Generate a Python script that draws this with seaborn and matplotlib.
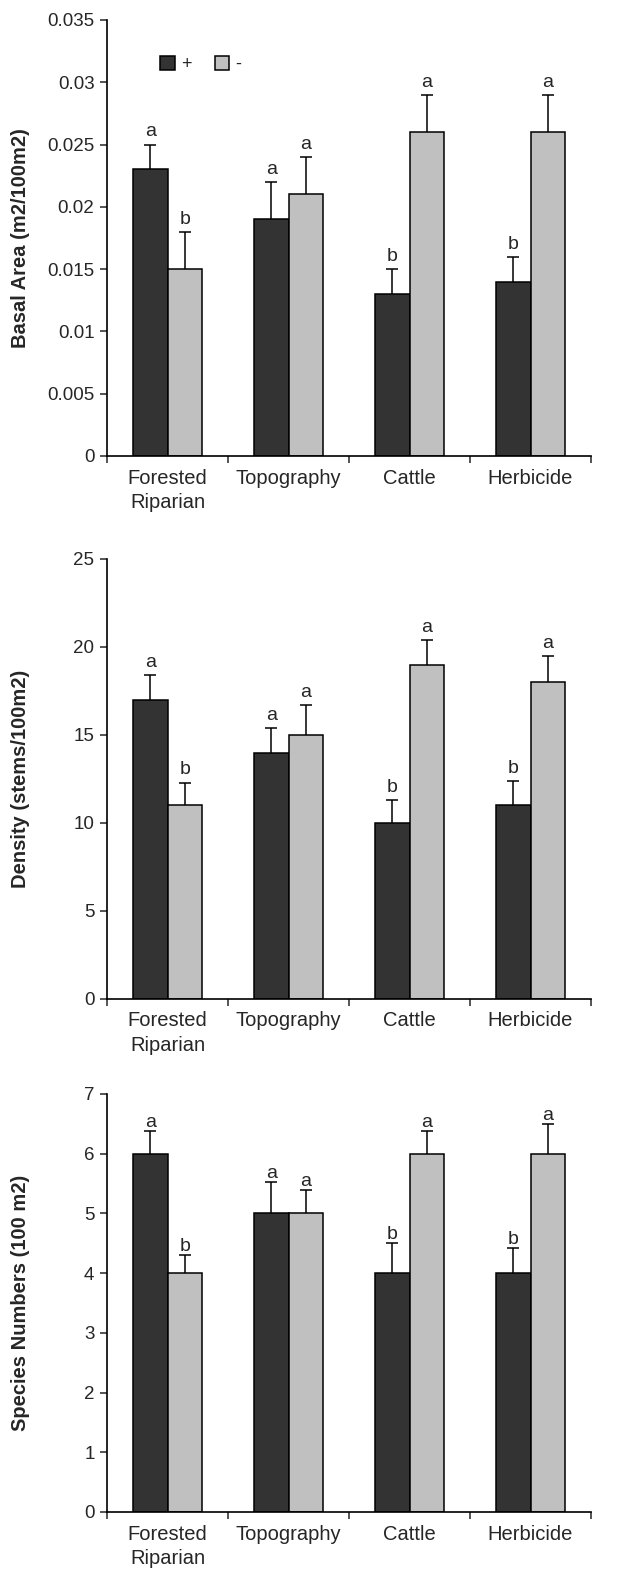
import numpy as np
import pandas as pd
import matplotlib.pyplot as plt
import seaborn as sns
from matplotlib.patches import Patch

# data
categories = ["Forested\nRiparian", "Topography", "Cattle", "Herbicide"]
treatments = ["+", "-"]

basal_plus = [0.023, 0.019, 0.013, 0.014]
basal_minus = [0.015, 0.021, 0.026, 0.026]
basal_plus_se = [0.002, 0.003, 0.002, 0.002]
basal_minus_se = [0.003, 0.003, 0.003, 0.003]

density_plus = [17, 14, 10, 11]
density_minus = [11, 15, 19, 18]
density_plus_se = [1.4, 1.4, 1.3, 1.4]
density_minus_se = [1.3, 1.7, 1.4, 1.5]

species_plus = [6, 5, 4, 4]
species_minus = [4, 5, 6, 6]
species_plus_se = [0.38, 0.52, 0.5, 0.42]
species_minus_se = [0.3, 0.4, 0.38, 0.5]

plus_letters = ["a", "a", "b", "b"]
minus_letters = ["b", "a", "a", "a"]

basal_ticks = [0, 0.005, 0.01, 0.015, 0.02, 0.025, 0.03, 0.035]
basal_tick_labels = ["0", "0.005", "0.01", "0.015", "0.02", "0.025", "0.03", "0.035"]
density_ticks = [0, 5, 10, 15, 20, 25]
species_ticks = [0, 1, 2, 3, 4, 5, 6, 7]

dark = "#333333"
light = "#c0c0c0"

sns.set_style("ticks")
plt.rcParams['font.family'] = ['Liberation Sans', 'DejaVu Sans']
plt.rcParams['font.size'] = 13


def draw_panel(ax, plus, minus, plus_se, minus_se, ylabel, yticks, ytick_labels, letter_pad):
    df = pd.DataFrame({
        "category": categories * 2,
        "treatment": ["+"] * len(categories) + ["-"] * len(categories),
        "value": plus + minus,
    })
    sns.barplot(data=df, x="category", y="value", hue="treatment", order=categories,
                hue_order=treatments, palette=[dark, light], saturation=1, width=0.57,
                edgecolor="black", linewidth=1.1, errorbar=None, legend=False, ax=ax)

    for cont, errs, letters in zip(ax.containers, [plus_se, minus_se], [plus_letters, minus_letters]):
        for bar, e, lab in zip(cont, errs, letters):
            x = bar.get_x() + bar.get_width() / 2
            y = bar.get_height()
            # upper half error bar only
            ax.errorbar(x, y + e / 2, yerr=e / 2, fmt="none", ecolor="black",
                        elinewidth=1.1, capsize=0, zorder=3)
            ax.plot(x, y + e, marker="_", markersize=8.5, markeredgewidth=1.1,
                    color="black", zorder=3)
            ax.annotate(lab, (x, y + e), xytext=(0, letter_pad), textcoords="offset points",
                        ha="center", va="bottom", fontsize=14)

    ax.set_xlim(-0.5, len(categories) - 0.5)
    ax.set_ylim(yticks[0], yticks[-1])
    ax.set_yticks(yticks)
    ax.set_yticklabels(ytick_labels)
    ax.set_xticks(np.arange(-0.5, len(categories), 1))
    ax.set_xticklabels([])
    ax.set_xticks(range(len(categories)), labels=categories, minor=True)
    for t in ax.get_xticklabels(minor=True):
        t.set_linespacing(1.38)
    ax.tick_params(axis="x", which="minor", length=0, pad=9, labelsize=14.5)
    ax.tick_params(axis="x", which="major", length=5, width=1.1, direction="out")
    ax.tick_params(axis="y", length=5, width=1.1, direction="out", labelsize=13.5, pad=4)
    ax.set_xlabel("")
    ax.set_ylabel(ylabel, fontsize=14.5, fontweight="bold")
    ax.yaxis.set_label_coords(-0.16, 0.5)
    for side in ["left", "bottom"]:
        ax.spines[side].set_linewidth(1.2)
        ax.spines[side].set_color("black")
    sns.despine(ax=ax)


fig = plt.figure(figsize=(6.17, 15.71), dpi=100)
left, width = 107 / 617, 484 / 617
ax1 = fig.add_axes([left, 1 - 456 / 1571, width, 436 / 1571])
ax2 = fig.add_axes([left, 1 - 999 / 1571, width, 440 / 1571])
ax3 = fig.add_axes([left, 1 - 1512 / 1571, width, 418 / 1571])

draw_panel(ax1, basal_plus, basal_minus, basal_plus_se, basal_minus_se,
           "Basal Area (m2/100m2)", basal_ticks, basal_tick_labels, 3)
draw_panel(ax2, density_plus, density_minus, density_plus_se, density_minus_se,
           "Density (stems/100m2)", density_ticks, [str(t) for t in density_ticks], 3)
draw_panel(ax3, species_plus, species_minus, species_plus_se, species_minus_se,
           "Species Numbers (100 m2)", species_ticks, [str(t) for t in species_ticks], 0)

handles = [Patch(facecolor=dark, edgecolor="black", linewidth=1.1),
           Patch(facecolor=light, edgecolor="black", linewidth=1.1)]
ax1.legend(handles, treatments, ncol=2, frameon=False, loc="center left",
           bbox_to_anchor=(0.11, (456 - 64.5) / 436), borderpad=0, borderaxespad=0,
           handlelength=0.8, handleheight=0.8, handletextpad=0.35, columnspacing=1.3,
           fontsize=13)

fig.savefig("out.png", dpi=100)
